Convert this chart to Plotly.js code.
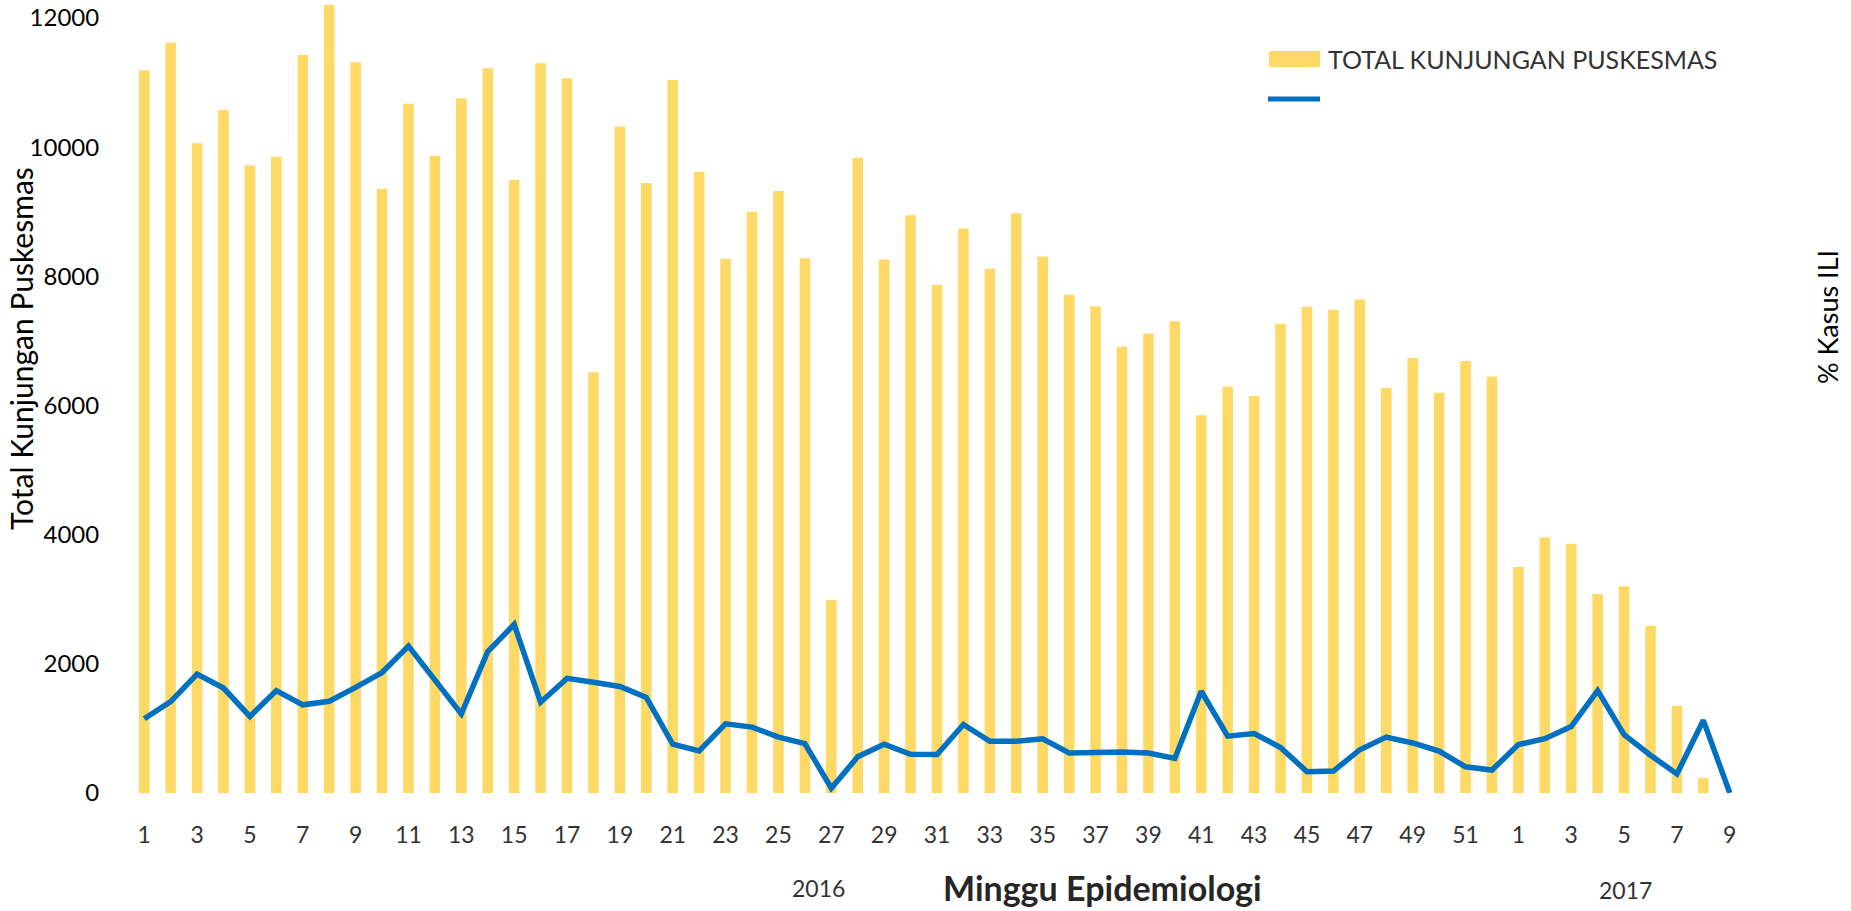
<!DOCTYPE html>
<html>
<head>
<meta charset="utf-8">
<script src="https://cdn.plot.ly/plotly-3.0.1.min.js"></script>
<style>html,body{margin:0;padding:0;background:#fff;}#chart{width:1851px;height:911px;}</style>
</head>
<body>
<div id="chart"></div>
<script>
// ---- Data ----
const weeks2016 = Array.from({length: 52}, (_, i) => String(i + 1));
const weeks2017 = ['1','2','3','4','5','6','7','8','9'];

const kunjungan2016 = [
  11190, 11615, 10060, 10575, 9715, 9850, 11425, 12400, 11315, 9355,
  10670, 9865, 10755, 11220, 9490, 11300, 11065, 6515, 10320, 9445,
  11040, 9615, 8270, 8995, 9320, 8280, 2990, 9835, 8260, 8945,
  7865, 8740, 8115, 8975, 8305, 7715, 7535, 6910, 7115, 7305,
  5850, 6290, 6145, 7265, 7530, 7480, 7640, 6270, 6735, 6195,
  6690, 6450
];
const kunjungan2017 = [3500, 3955, 3860, 3080, 3200, 2590, 1350, 230, 0];

const ili2016 = [
  1150, 1415, 1840, 1625, 1185, 1585, 1365, 1420, 1635, 1865,
  2275, 1750, 1225, 2190, 2610, 1405, 1775, 1715, 1650, 1480,
  755, 650, 1070, 1020, 865, 765, 75, 560, 755, 600,
  595, 1060, 800, 800, 840, 620, 635, 635, 620, 535,
  1575, 880, 920, 705, 330, 340, 670, 865, 775, 650,
  405, 355
];
const ili2017 = [750, 840, 1030, 1585, 905, 585, 295, 1125, 0];

const yTicks = [0, 2000, 4000, 6000, 8000, 10000, 12000];
const yTickText = ['0', '2000', '4000', '6000', '8000', '10000', '12000'];
const barName = 'TOTAL KUNJUNGAN PUSKESMAS';
const lineName = '';

// ---- Build categories ----
const cats = weeks2016.map(w => '2016-' + w).concat(weeks2017.map(w => '2017-' + w));
const labels = weeks2016.concat(weeks2017);
const tickvals = [], ticktext = [];
cats.forEach((c, i) => { if (i % 2 === 0) { tickvals.push(c); ticktext.push(labels[i]); } });

const W = 1851, H = 911;
const M = {l: 131, r: 108, t: 5, b: 118};
const PW = W - M.l - M.r, PH = H - M.t - M.b;
const px = x => (x - M.l) / PW;
const py = y => (M.t + PH - y) / PH;

const FONT = 'Lato, "Open Sans", sans-serif';
const barColor = '#FFD966';
const lineColor = '#0070C0';

const traces = [
  {
    type: 'bar', x: cats, y: kunjungan2016.concat(kunjungan2017),
    name: barName, marker: {color: barColor}, hoverinfo: 'x+y'
  },
  {
    type: 'scatter', mode: 'lines', x: cats, y: ili2016.concat(ili2017),
    name: lineName, yaxis: 'y2',
    line: {color: lineColor, width: 5.5}
  }
];

const layout = {
  width: W, height: H,
  margin: M,
  paper_bgcolor: '#fff', plot_bgcolor: '#fff',
  showlegend: false,
  bargap: 0.6,
  font: {family: FONT, color: '#000'},
  xaxis: {
    type: 'category', categoryorder: 'array', categoryarray: cats,
    range: [-0.5, cats.length - 0.5],
    tickmode: 'array', tickvals: tickvals, ticktext: ticktext,
    ticks: 'outside', ticklen: 21, tickcolor: 'rgba(0,0,0,0)',
    tickfont: {family: FONT, size: 23, color: '#333'},
    tickangle: 0,
    showgrid: false, showline: false, zeroline: false
  },
  yaxis: {
    range: [0, 12200],
    tickmode: 'array', tickvals: yTicks, ticktext: yTickText,
    ticks: 'outside', ticklen: 26, tickcolor: 'rgba(0,0,0,0)',
    ticklabeloverflow: 'allow',
    tickfont: {family: FONT, size: 24, color: '#000'},
    showgrid: false, showline: false, zeroline: false
  },
  yaxis2: {
    overlaying: 'y', side: 'right', range: [0, 12200],
    showticklabels: false, showgrid: false, showline: false, zeroline: false
  },
  shapes: [
    {type: 'rect', xref: 'paper', yref: 'paper', x0: px(1269), x1: px(1320), y0: py(67), y1: py(51),
     fillcolor: barColor, line: {width: 0}},
    {type: 'line', xref: 'paper', yref: 'paper', x0: px(1268), x1: px(1320), y0: py(99), y1: py(99),
     line: {color: lineColor, width: 5}}
  ],
  annotations: [
    {text: barName, xref: 'paper', yref: 'paper', x: px(1326), y: py(59), xanchor: 'left', yanchor: 'middle',
     showarrow: false, font: {family: FONT, size: 25, color: '#333'}},
    {text: 'Total Kunjungan Puskesmas', xref: 'paper', yref: 'paper', x: px(21), y: py(349), textangle: -90,
     xanchor: 'center', yanchor: 'middle', showarrow: false, font: {family: FONT, size: 30, color: '#000'}},
    {text: '% Kasus ILI', xref: 'paper', yref: 'paper', x: px(1827), y: py(317), textangle: -90,
     xanchor: 'center', yanchor: 'middle', showarrow: false, font: {family: FONT, size: 27, color: '#000'}},
    {text: 'Minggu Epidemiologi', xref: 'paper', yref: 'paper', x: px(1102), y: py(910),
     xanchor: 'center', yanchor: 'bottom', showarrow: false, font: {family: FONT, size: 34, color: '#262626', weight: 'bold'}},
    {text: '2016', xref: 'paper', yref: 'paper', x: px(818), y: py(888),
     xanchor: 'center', yanchor: 'middle', showarrow: false, font: {family: FONT, size: 23, color: '#333'}},
    {text: '2017', xref: 'paper', yref: 'paper', x: px(1625), y: py(890),
     xanchor: 'center', yanchor: 'middle', showarrow: false, font: {family: FONT, size: 23, color: '#333'}}
  ]
};

Plotly.newPlot('chart', traces, layout, {displayModeBar: false, staticPlot: true});
</script>
</body>
</html>
